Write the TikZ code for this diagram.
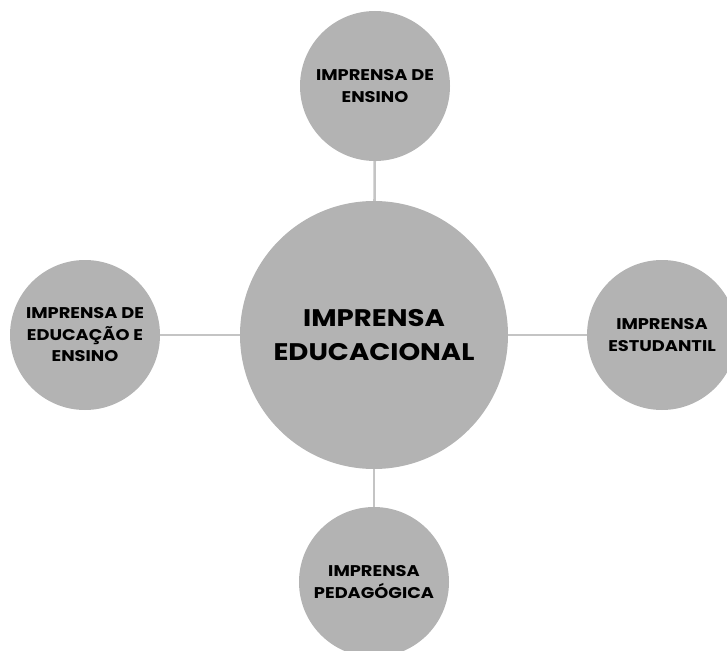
\documentclass[tikz,border=0pt]{standalone}
\usepackage{fontspec}
\setmainfont{Poppins}[FakeStretch=1.15]
\usepackage{tikz}

\definecolor{bola}{HTML}{B3B3B3}
\definecolor{linha}{HTML}{C4C4C4}

\begin{document}
\begin{tikzpicture}[x=1pt, y=-1pt,
                    bola/.style={circle, fill=bola, inner sep=0pt, align=center,
                                 font=\bfseries\fontsize{15.5}{21.5}\selectfont},
                    ligacao/.style={draw=linha, line width=2.6pt}]
                % okvir
                \useasboundingbox (0, 0) rectangle (727, 650);
                \clip (0, 0) rectangle (727, 650);

                % osrednji krog
                \node[bola, minimum size=268pt,
                      font=\bfseries\fontsize{24}{34}\selectfont] (centro) at (374, 335)
                      {IMPRENSA\\EDUCACIONAL};

                % krogi okoli
                \node[bola, minimum size=150pt] (ensino) at (375, 86)
                      {IMPRENSA DE\\ENSINO};
                \node[bola, minimum size=150pt] (educacao) at (85, 335)
                      {IMPRENSA DE\\EDUCAÇÃO E\\ENSINO};
                \node[bola, minimum size=150pt] (estudantil) at (662, 335)
                      {IMPRENSA\\ESTUDANTIL};
                \node[bola, minimum size=150pt] (pedagogica) at (374, 582)
                      {IMPRENSA\\PEDAGÓGICA};

                % povezave
                \draw[ligacao] (ensino) -- (centro);
                \draw[ligacao] (educacao) -- (centro);
                \draw[ligacao] (estudantil) -- (centro);
                \draw[ligacao] (pedagogica) -- (centro);
            \end{tikzpicture}
\end{document}
